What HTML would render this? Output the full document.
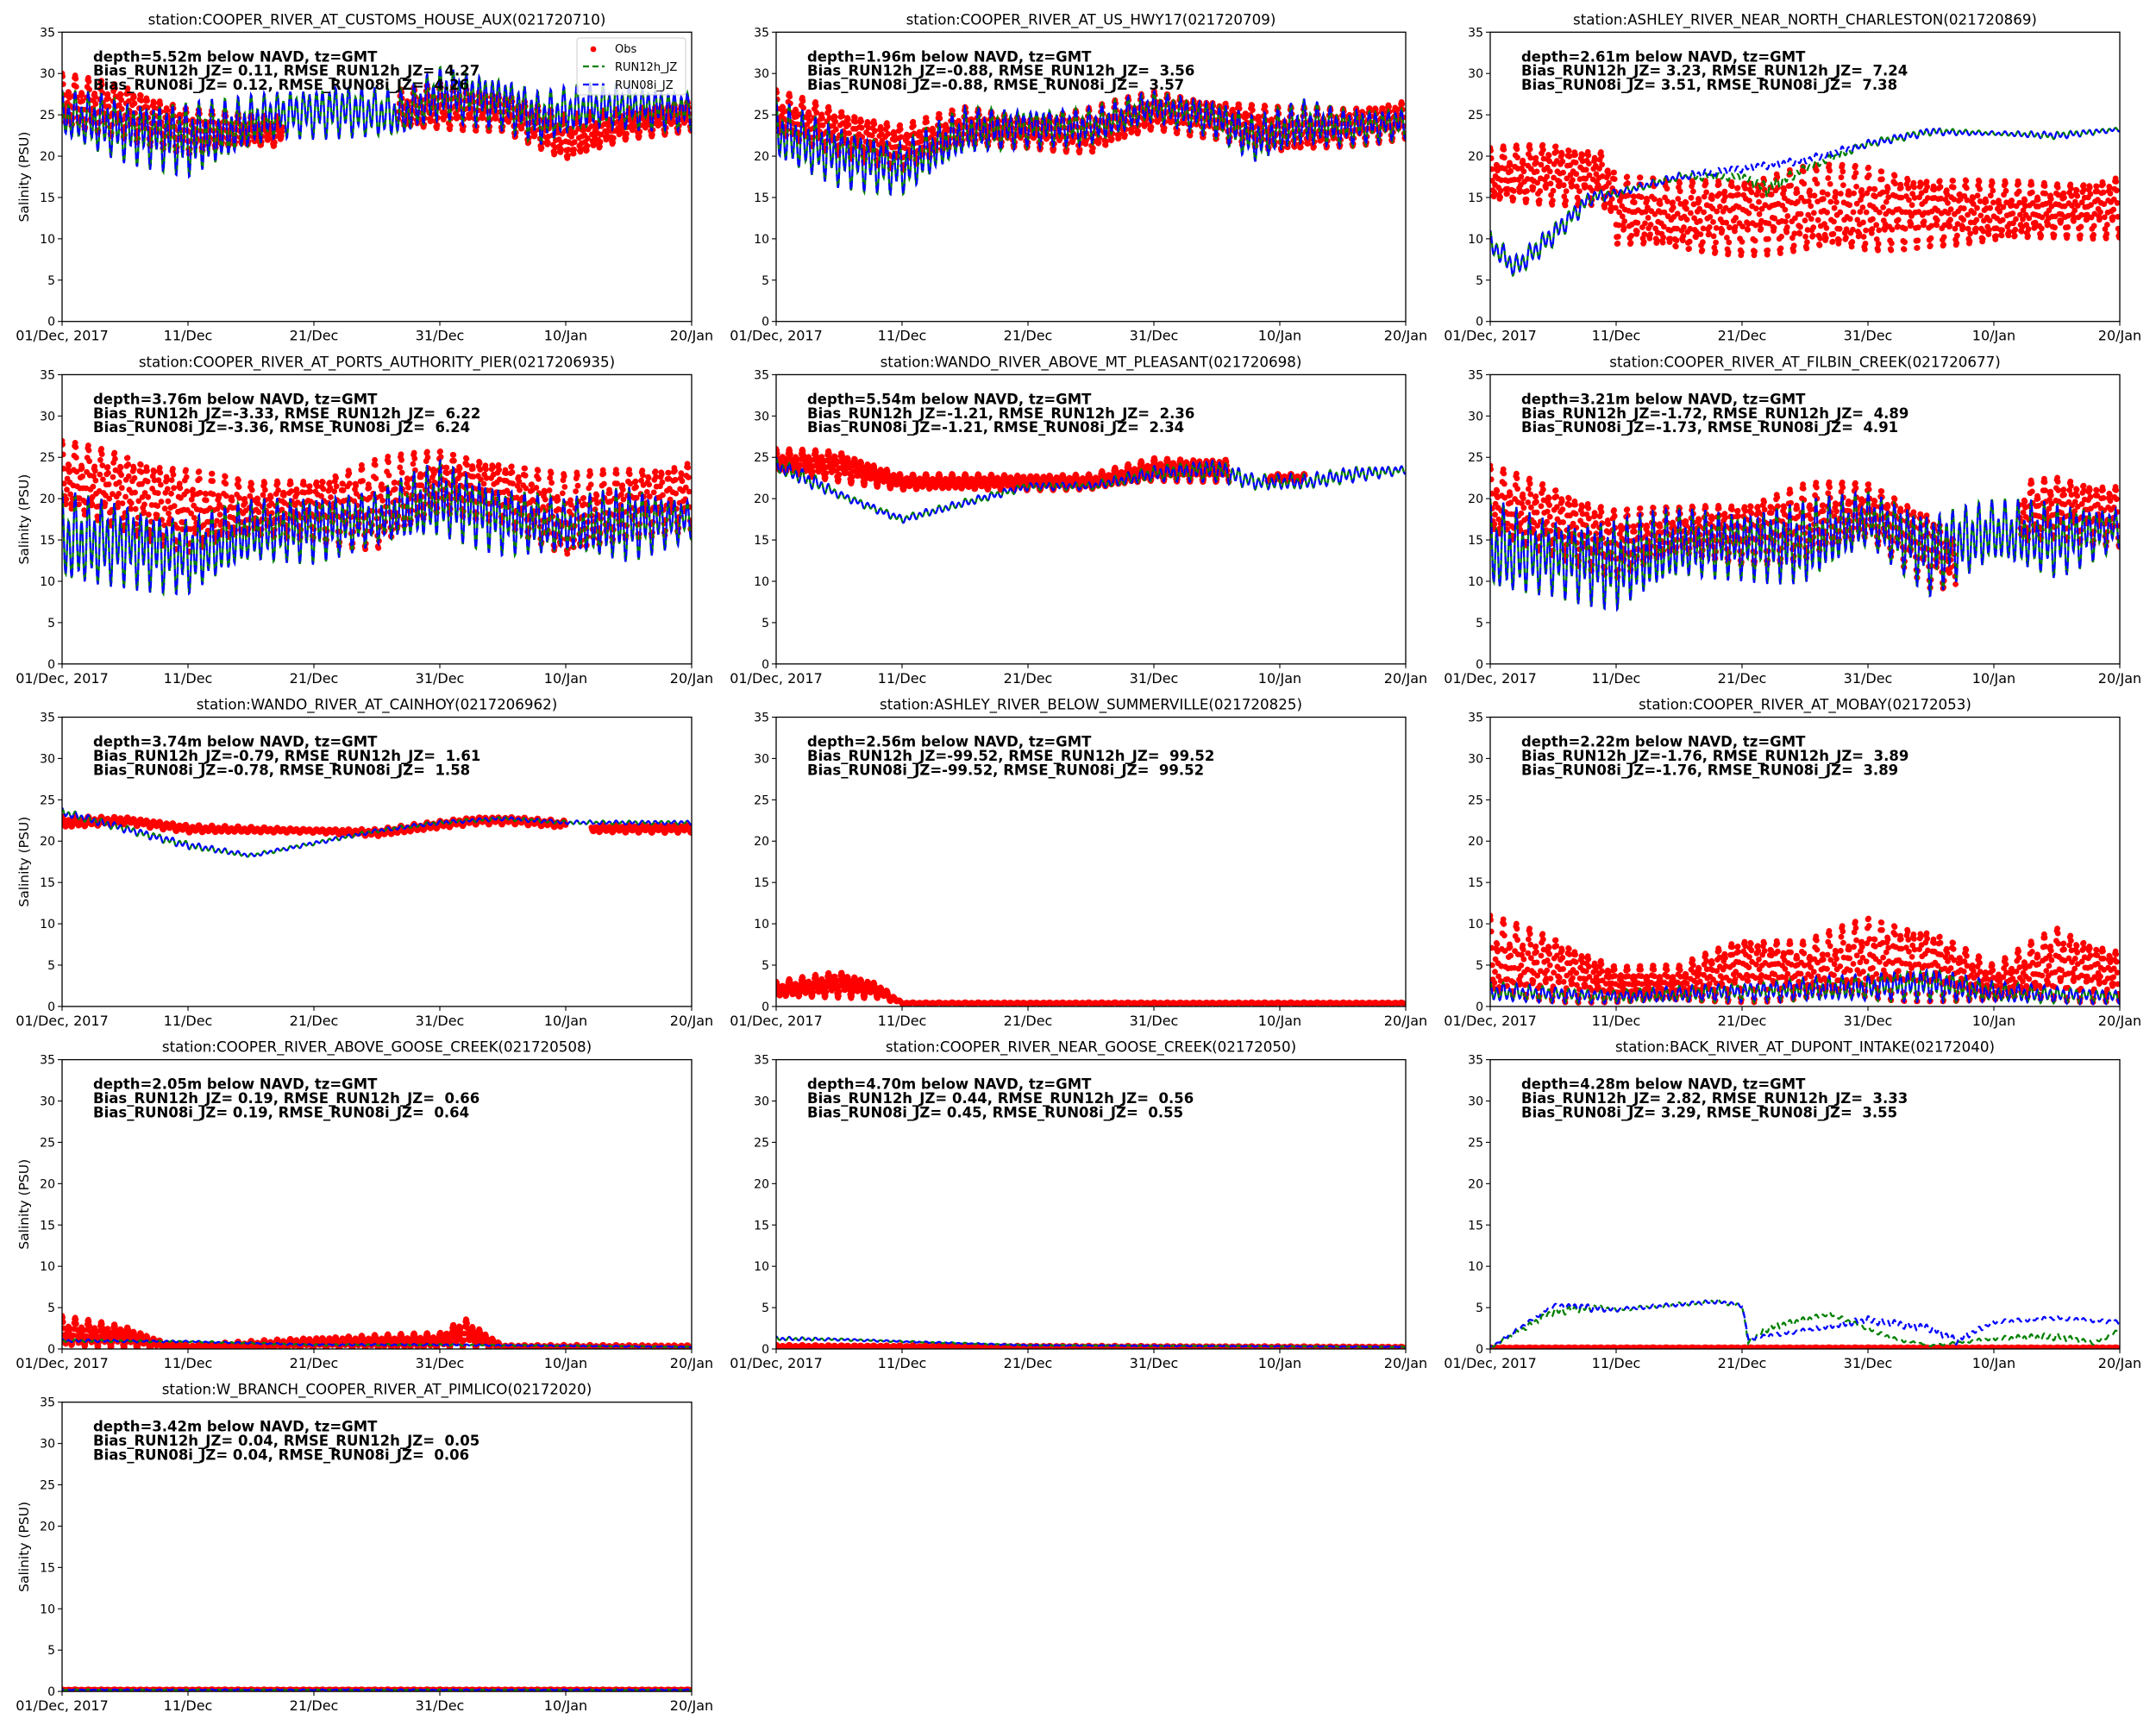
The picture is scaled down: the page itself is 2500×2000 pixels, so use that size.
<!DOCTYPE html>
<html><head><meta charset="utf-8">
<style>
html,body{margin:0;padding:0;background:#fff;}
svg{display:block;font-family:"DejaVu Sans","Liberation Sans",sans-serif;}
.ann{font-weight:bold;font-size:16.5px;}
</style></head>
<body>
<svg id="fig" width="2500" height="2000" viewBox="0 0 2500 2000" xmlns="http://www.w3.org/2000/svg"></svg>
<script>
// ---- chart data (days since 01/Dec/2017; knots are [day, low, high]) ----
const xTickLabels = ["01/Dec, 2017","11/Dec","21/Dec","31/Dec","10/Jan","20/Jan"];
const xTickDays = [0,10,20,30,40,50];
const yTicks = [0,5,10,15,20,25,30,35];
const stationTitles = [
"station:COOPER_RIVER_AT_CUSTOMS_HOUSE_AUX(021720710)",
"station:COOPER_RIVER_AT_US_HWY17(021720709)",
"station:ASHLEY_RIVER_NEAR_NORTH_CHARLESTON(021720869)",
"station:COOPER_RIVER_AT_PORTS_AUTHORITY_PIER(0217206935)",
"station:WANDO_RIVER_ABOVE_MT_PLEASANT(021720698)",
"station:COOPER_RIVER_AT_FILBIN_CREEK(021720677)",
"station:WANDO_RIVER_AT_CAINHOY(0217206962)",
"station:ASHLEY_RIVER_BELOW_SUMMERVILLE(021720825)",
"station:COOPER_RIVER_AT_MOBAY(02172053)",
"station:COOPER_RIVER_ABOVE_GOOSE_CREEK(021720508)",
"station:COOPER_RIVER_NEAR_GOOSE_CREEK(02172050)",
"station:BACK_RIVER_AT_DUPONT_INTAKE(02172040)",
"station:W_BRANCH_COOPER_RIVER_AT_PIMLICO(02172020)"];
const depths = ["5.52","1.96","2.61","3.76","5.54","3.21","3.74","2.56","2.22","2.05","4.70","4.28","3.42"];
const bias12 = [" 0.11","-0.88"," 3.23","-3.33","-1.21","-1.72","-0.79","-99.52","-1.76"," 0.19"," 0.44"," 2.82"," 0.04"];
const rmse12 = [" 4.27"," 3.56"," 7.24"," 6.22"," 2.36"," 4.89"," 1.61"," 99.52"," 3.89"," 0.66"," 0.56"," 3.33"," 0.05"];
const bias08 = [" 0.12","-0.88"," 3.51","-3.36","-1.21","-1.73","-0.78","-99.52","-1.76"," 0.19"," 0.45"," 3.29"," 0.04"];
const rmse08 = [" 4.26"," 3.57"," 7.38"," 6.24"," 2.34"," 4.91"," 1.58"," 99.52"," 3.89"," 0.64"," 0.55"," 3.55"," 0.06"];

const obsKnots = [
 [[0,23,30],[5,22,29],[10,20,26],[15,21,25],[17.5,21,25],[17.6,null,null],[26.6,null,null],[26.7,23,28],[30,23,29],[35,23,28],[40,19,25],[45,22,26],[50,23,27]],
 [[0,22,28],[5,20,26],[10,18,24],[15,21,26],[20,21,25],[25,20,26],[30,23,28],[35,22,27],[40,20,26],[45,21,26],[50,22,27]],
 [[0,14,21],[5,14,22],[9,14,21],[10,9,18],[15,8,17],[20,8,18],[25,8,19],[30,8,19],[35,9,18],[40,9,17],[45,10,17],[50,10,18]],
 [[0,18,27],[5,16,26],[10,13,24],[15,15,22],[20,15,23],[25,13,25],[30,18,26],[35,17,25],[40,12,23],[45,15,24],[50,16,25]],
 [[0,23,26],[5,22,26],[10,21,23],[15,21,23],[20,21,23],[25,21,23],[30,22,25],[36,22,25],[36.1,null,null],[38.9,null,null],[39,22,23],[42,22,23],[42.1,null,null],[50,null,null]],
 [[0,15,24],[5,13,22],[10,10,19],[15,13,19],[20,12,20],[25,12,22],[30,15,22],[35,9,19],[37,9,15],[37.1,null,null],[41.9,null,null],[42,14,22],[45,15,23],[50,14,22]],
 [[0,21.5,23],[5,22,23],[10,21,22],[20,21,21.5],[25,20.5,21.5],[30,21.5,22.5],[33,22,23],[36,22,23],[40,21.5,22.5],[40.1,null,null],[41.9,null,null],[42,21,22],[50,21,22]],
 [[0,1,3],[5,1,4.5],[8,1,3],[10,0.3,0.5],[50,0.3,0.5]],
 [[0,0.5,11],[5,0.5,9],[10,0.3,5],[15,0.3,5],[20,0.5,9],[25,0.5,8],[30,0.5,11],[35,0.5,10],[40,0.3,5],[45,0.5,10],[50,0.5,7]],
 [[0,0,4],[5,0,3],[8,0,1],[10,0,0.5],[20,0,1.5],[30,0,2],[32,0,4],[35,0,0.5],[50,0,0.5]],
 [[0,0.1,0.5],[50,0.1,0.3]],
 [[0,0.1,0.2],[50,0.1,0.2]],
 [[0,0.15,0.25],[50,0.15,0.25]]
];
const run12Knots = [
 [[0,22,28],[3,20,28],[5,19,27],[8,18,27],[10,17,27],[13,19,27],[17,22,28],[22,22,29],[27,22,28],[30,24,31],[35,23,30],[38,21,28],[42,23,29],[45,23,29],[50,23,28]],
 [[0,19,27],[5,16,24],[10,15,22],[15,20,26],[20,21,26],[25,21,26],[30,24,28],[35,22,27],[38,19,25],[42,21,27],[45,21,26],[50,22,26]],
 [[0,8,11],[2,5,8],[5,9,12],[8,14,16],[10,15,16],[15,17,18],[20,17,18],[22,15,17],[25,18,19],[30,21,22],[35,22.5,23.5],[40,22.5,23],[45,22,23],[50,23,23.5]],
 [[0,9,21],[5,9,20],[10,8,18],[15,12,20],[20,12,21],[25,14,21],[30,15,25],[35,13,22],[40,13,20],[45,12,22],[50,15,20]],
 [[0,23,25],[3,21,23],[5,20,21],[10,17,18],[15,19,20],[20,21,22],[25,21,22],[30,22,24],[35,22,25],[38,21,23],[42,21,23],[46,22,24],[50,23,24]],
 [[0,8,20],[5,8,18],[10,6,18],[15,10,19],[20,10,19],[25,9,20],[30,14,21],[35,8,19],[40,12,20],[45,10,20],[50,14,19]],
 [[0,23,24],[5,21,22],[10,19,20],[15,18,18.5],[20,19.5,20],[25,21,21.5],[30,22,22.5],[35,22.5,23],[40,22,22.5],[45,22,22.5],[50,22,22.5]],
 [],
 [[0,0.5,3],[10,0.3,2],[20,0.5,3],[30,0.5,4],[35,0.5,5],[40,0.3,3],[50,0.3,2]],
 [[0,0.8,1.2],[10,0.8,1],[20,0.4,0.6],[30,0.4,0.6],[50,0.2,0.3]],
 [[0,1,1.5],[5,1,1.3],[10,0.8,1],[20,0.4,0.5],[50,0.2,0.3]],
 [[0,0,0.3],[5,4,5],[8,4.5,5.5],[10,4.5,5],[18,5.5,6],[20,5,5.5],[20.5,0.5,1],[22,2,3],[27,4,4.5],[32,1,1.5],[35,0.3,0.5],[40,1,1.5],[45,1,2],[48,0.5,1],[50,2,2.5]],
 [[0,0.15,0.25],[50,0.15,0.25]]
];
const run08Knots = [
 null,null,
 [[0,8,11],[2,5,8],[5,9,12],[8,14,16],[10,15,16],[15,17,18],[20,18,19],[25,19,20],[30,21,22],[35,22.5,23.5],[40,22.5,23],[45,22,23],[50,23,23.5]],
 null,null,null,null,null,null,null,null,
 [[0,0,0.3],[5,5,5.5],[8,4.5,5.5],[10,4.5,5],[18,5.5,6],[20,5,5.5],[20.5,1,1.5],[25,2,2.5],[30,3,4],[35,2,3],[37,0.5,1.5],[40,3,3.5],[45,3.5,4],[50,3,3.5]],
 null
];

// ---- layout ----
const NS="http://www.w3.org/2000/svg";
const fig=document.getElementById('fig');
const colLeft=[72,900,1728], AW=730, AH=335.4;
function rowTop(r){return 37.3+397.1*r;}
function mk(tag,attrs,parent){const e=document.createElementNS(NS,tag);for(const k in attrs)e.setAttribute(k,attrs[k]);(parent||fig).appendChild(e);return e;}
function nb(s){return String(s).replace(/ /g,'\u00a0');}
function interp(knots,d){
  if(!knots||!knots.length)return null;
  if(d<=knots[0][0])return knots[0];
  for(let i=0;i<knots.length-1;i++){const a=knots[i],b=knots[i+1];
    if(d>=a[0]&&d<=b[0]){ if(a[1]===null||b[1]===null)return null;
      const t=(d-a[0])/(b[0]-a[0]||1);return [d,a[1]+t*(b[1]-a[1]),a[2]+t*(b[2]-a[2])];}}
  return knots[knots.length-1];
}
function tide(lo,hi,d){return (lo+hi)/2+(hi-lo)/2*(0.7*Math.cos(2*Math.PI*d/0.5175)+0.3*Math.cos(2*Math.PI*d/1.0758));}

stationTitles.forEach((title,i)=>{
  const col=i%3,row=Math.floor(i/3);
  const L=colLeft[col],T=rowTop(row);
  const xs=d=>L+d/50*AW, ys=v=>T+AH-v/35*AH;
  const g=mk('g',{});
  
  
  const cid='clip'+i;
  const cp=mk('clipPath',{id:cid},g);mk('rect',{x:L,y:T,width:AW,height:AH},cp);
  const plot=mk('g',{'clip-path':'url(#'+cid+')'},g);
  
  
  const ok=obsKnots[i];
  let dots='';
  for(let d=0;d<=50;d+=1/24){const k=interp(ok,d);if(!k)continue;const v=tide(k[1],k[2],d);
    const x=xs(d),y=ys(v);dots+='M'+(x-3.4).toFixed(1)+' '+y.toFixed(1)+'a3.4 3.4 0 1 0 6.8 0a3.4 3.4 0 1 0 -6.8 0';}
  const od=mk('path',{d:dots,fill:'#ff0000'},plot);
  
  
  function line(knots,color,name,off){
    if(!knots||!knots.length)return;
    let p='';
    for(let d=0;d<=50;d+=1/24){const k=interp(knots,d);if(!k)continue;const v=tide(k[1],k[2],d);
      p+=(p?'L':'M')+xs(d).toFixed(1)+' '+ys(v).toFixed(1);}
    const e=mk('path',{d:p,fill:'none',stroke:color,'stroke-width':2.3,'stroke-dasharray':'8 5','stroke-dashoffset':off},plot);
    
    
  }
  line(run12Knots[i],'#008000','run12h-line',0);
  line(run08Knots[i]||run12Knots[i],'#0000ff','run08i-line',6);
  const fr=mk('rect',{x:L,y:T,width:AW,height:AH,fill:'none',stroke:'#000','stroke-width':1.3},g);
  
  
  yTicks.forEach(v=>{const y=ys(v);mk('line',{x1:L-5,x2:L,y1:y,y2:y,stroke:'#000','stroke-width':1.1},g);
    const t=mk('text',{x:L-8,y:y+5,'text-anchor':'end','font-size':14},g);t.textContent=v;
    
    });
  xTickDays.forEach((d,j)=>{const x=xs(d);mk('line',{x1:x,x2:x,y1:T+AH,y2:T+AH+5,stroke:'#000','stroke-width':1.1},g);
    const t=mk('text',{x:x,y:T+AH+22,'text-anchor':'middle','font-size':16},g);t.textContent=xTickLabels[j];
    
    });
  const tt=mk('text',{x:L+AW/2,y:T-9,'text-anchor':'middle','font-size':16.7},g);tt.textContent=title;
  
  
  const lines=['depth='+depths[i]+'m below NAVD, tz=GMT',
    'Bias_RUN12h_JZ='+bias12[i]+', RMSE_RUN12h_JZ= '+rmse12[i],
    'Bias_RUN08i_JZ='+bias08[i]+', RMSE_RUN08i_JZ= '+rmse08[i]];
  lines.forEach((s,j)=>{const t=mk('text',{x:L+36,y:T+34+j*16.4,'class':'ann'},g);t.textContent=nb(s);
    
    });
  if(col===0){const yl=mk('text',{x:0,y:0,'text-anchor':'middle','font-size':15.5,transform:'translate(33,'+(T+AH/2)+') rotate(-90)'},g);
    yl.textContent='Salinity (PSU)';
    
    }
  if(i===0){const lg=mk('g',{},g);
    
    
    mk('rect',{x:669,y:44,width:126,height:66,rx:3,fill:'#fff','fill-opacity':0.8,stroke:'#ccc'},lg);
    mk('circle',{cx:688,cy:57,r:3.4,fill:'#ff0000'},lg);
    mk('line',{x1:676,x2:701,y1:77,y2:77,stroke:'#008000','stroke-width':2.3,'stroke-dasharray':'7 4'},lg);
    mk('line',{x1:676,x2:701,y1:98,y2:98,stroke:'#0000ff','stroke-width':2.3,'stroke-dasharray':'7 4'},lg);
    [['Obs',61],['RUN12h_JZ',82],['RUN08i_JZ',103]].forEach(a=>{const t=mk('text',{x:713,y:a[1],'font-size':13},lg);t.textContent=a[0];
      
      });
  }
});
</script>
</body></html>
